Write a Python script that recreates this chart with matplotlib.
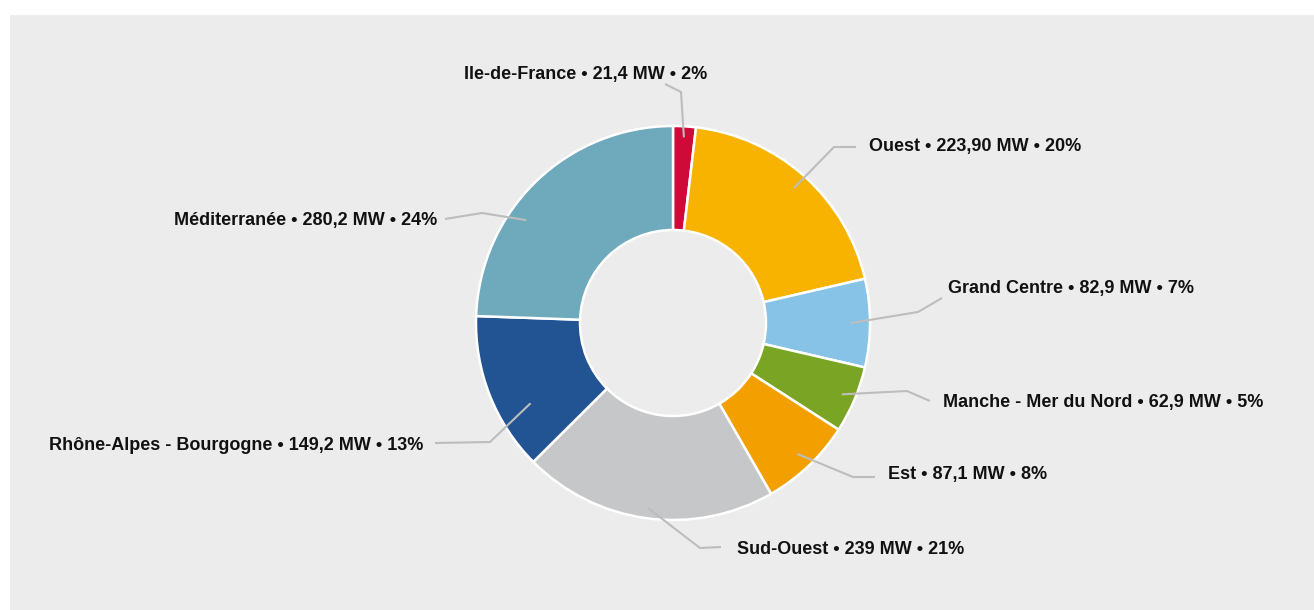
import numpy as np
import matplotlib
matplotlib.use("Agg")
import matplotlib.pyplot as plt
from matplotlib.patches import Rectangle

plt.rcParams['font.family'] = ['Liberation Sans Narrow', 'Liberation Sans', 'DejaVu Sans']

# Data
regions = ["Ile-de-France", "Ouest", "Grand Centre", "Manche - Mer du Nord",
           "Est", "Sud-Ouest", "Rhône-Alpes - Bourgogne", "Méditerranée"]
mw = [21.4, 223.9, 82.9, 62.9, 87.1, 239, 149.2, 280.2]
mw_text = ["21,4", "223,90", "82,9", "62,9", "87,1", "239", "149,2", "280,2"]
pct_text = ["2%", "20%", "7%", "5%", "8%", "21%", "13%", "24%"]

colors = ["#cf0a38", "#f8b300", "#86c3e7", "#7aa524",
          "#f49f00", "#c6c7c9", "#225393", "#6ea9bc"]

# label layout (pixel coords, y from top): elbow, end of leader, text anchor
anchor_r = [0.944, 0.92, 0.90, 0.93, 0.917, 0.948, 0.83, 0.91]
anchor_shift = [0, 0, 0, 0, 0, 0, 8, 11]   # degrees, counter-clockwise
elbows = [(681, 92), (834, 147), (918, 312), (907, 391),
          (853, 477), (700, 548), (490, 442), (482, 213)]
ends = [(665, 84), (856, 147), (942, 298), (930, 401),
        (875, 477), (721, 547), (435, 443), (445, 219)]
text_pos = [(707, 73), (869, 144), (948, 286), (943, 400),
            (888, 473), (737, 548), (423, 443), (437, 219)]
text_ha = ["right", "left", "left", "left", "left", "left", "right", "right"]

W, H = 1314, 610
fig = plt.figure(figsize=(W / 100, H / 100), dpi=100)
fig.patch.set_facecolor("white")

ax = fig.add_axes([0, 0, 1, 1])

# grey panel behind the chart
ax.add_patch(Rectangle((10, -5), W, 600, facecolor="#ebeceb",
                       edgecolor="none", zorder=0))

cx, cy, R = 673, H - 323, 197
wedges, _ = ax.pie(mw, colors=colors, startangle=90, counterclock=False,
                   center=(cx, cy), radius=R, frame=True,
                   wedgeprops=dict(width=R - 93, edgecolor="white", linewidth=1.8,
                                   zorder=2))
ax.set_xlim(0, W)
ax.set_ylim(0, H)
ax.set_aspect("equal")
ax.axis("off")

for i, w in enumerate(wedges):
    mid = np.deg2rad((w.theta1 + w.theta2) / 2 + anchor_shift[i])
    sx = cx + anchor_r[i] * R * np.cos(mid)
    sy = cy + anchor_r[i] * R * np.sin(mid)
    ex, ey = elbows[i]
    fx, fy = ends[i]
    ax.plot([sx, ex, fx], [sy, H - ey, H - fy], color="#bdbdbd", lw=1.5,
            solid_capstyle="butt", zorder=5)
    label = f"{regions[i]} • {mw_text[i]} MW • {pct_text[i]}"
    tx, ty = text_pos[i]
    ax.text(tx, H - ty - 6.5, label, ha=text_ha[i], va="baseline",
            fontsize=13, fontweight="bold", color="#111111", zorder=6)

fig.savefig("out.png", dpi=100)
